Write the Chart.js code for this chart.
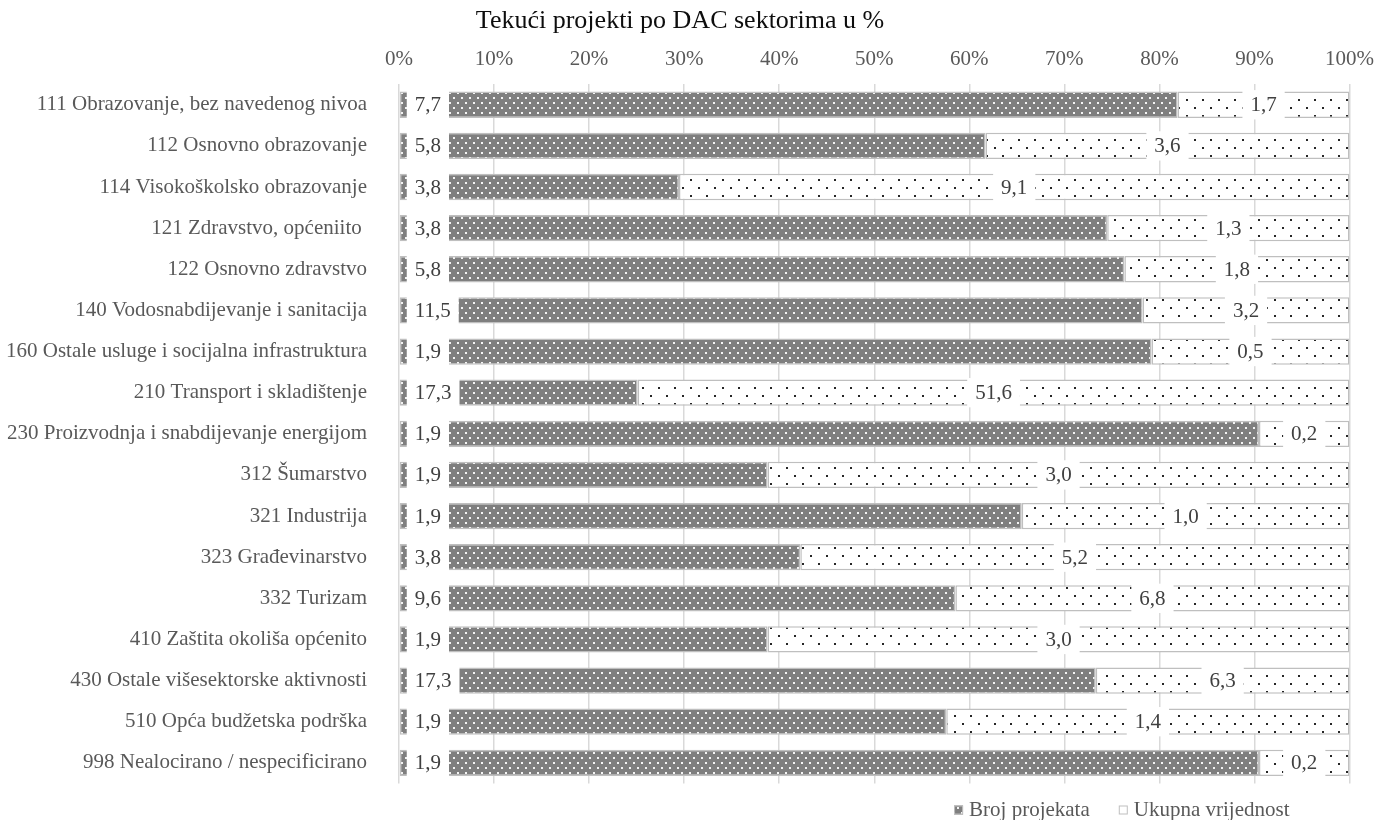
<!DOCTYPE html>
<html lang="bs">
<head>
  <meta charset="UTF-8">
  <title>Tekući projekti po DAC sektorima u %</title>
  <script src="https://cdn.jsdelivr.net/npm/chart.js"></script>
  <style>
    html, body { margin: 0; padding: 0; background: #fff; }
    #wrap { width: 1386px; height: 820px; }
  </style>
</head>
<body>
  <div id="wrap">
    <canvas id="dac-chart" width="1386" height="820"></canvas>
  </div>
  <script>
    // Sectors (DAC codes) and the two shares shown in each bar
    const sectors = [
      '111 Obrazovanje, bez navedenog nivoa',
      '112 Osnovno obrazovanje',
      '114 Visokoškolsko obrazovanje',
      '121 Zdravstvo, općeniito ',
      '122 Osnovno zdravstvo',
      '140 Vodosnabdijevanje i sanitacija',
      '160 Ostale usluge i socijalna infrastruktura',
      '210 Transport i skladištenje',
      '230 Proizvodnja i snabdijevanje energijom',
      '312 Šumarstvo',
      '321 Industrija',
      '323 Građevinarstvo',
      '332 Turizam',
      '410 Zaštita okoliša općenito',
      '430 Ostale višesektorske aktivnosti',
      '510 Opća budžetska podrška',
      '998 Nealocirano / nespecificirano'
    ];
    const brojProjekata = [7.7, 5.8, 3.8, 3.8, 5.8, 11.5, 1.9, 17.3, 1.9, 1.9, 1.9, 3.8, 9.6, 1.9, 17.3, 1.9, 1.9];
    const ukupnaVrijednost = [1.7, 3.6, 9.1, 1.3, 1.8, 3.2, 0.5, 51.6, 0.2, 3.0, 1.0, 5.2, 6.8, 3.0, 6.3, 1.4, 0.2];
    const seriesNames = ['Broj projekata', 'Ukupna vrijednost'];
    const tickLabels = ['0%', '10%', '20%', '30%', '40%', '50%', '60%', '70%', '80%', '90%', '100%'];

    const FONT = '"Liberation Serif", "Times New Roman", serif';

    // 100% stacked: each row is split by its own total
    const rowTotal = brojProjekata.map((v, i) => v + ukupnaVrijednost[i]);
    const brojShare = brojProjekata.map((v, i) => v / rowTotal[i] * 100);
    const ukupnaShare = ukupnaVrijednost.map((v, i) => v / rowTotal[i] * 100);

    // small tiles for the dotted fills
    function makePattern(w, h, bg, dotColor, dots, size) {
      const c = document.createElement('canvas');
      c.width = w; c.height = h;
      const g = c.getContext('2d');
      g.fillStyle = bg;
      g.fillRect(0, 0, w, h);
      g.fillStyle = dotColor;
      dots.forEach(d => g.fillRect(d[0], d[1], size, size));
      return g.createPattern(c, 'repeat');
    }
    const grayDots = makePattern(8, 10, '#7f7f7f', '#f4f4f4', [[1, 2], [5, 7]], 2);
    const whiteDots = makePattern(16, 16, '#ffffff', '#262626', [[2, 3], [10, 11]], 2);
    const fills = [grayDots, whiteDots];
    const rawValues = [brojProjekata, ukupnaVrijednost];

    const fmt = v => v.toFixed(1).replace('.', ',');

    // value labels: first series at the bar base, second one centred, on a white box
    const valueLabels = {
      id: 'valueLabels',
      afterDatasetsDraw(chart) {
        const ctx = chart.ctx;
        ctx.save();
        ctx.font = '21px ' + FONT;
        ctx.textBaseline = 'middle';
        ctx.textAlign = 'left';
        chart.data.datasets.forEach((ds, di) => {
          const meta = chart.getDatasetMeta(di);
          meta.data.forEach((bar, j) => {
            const p = bar.getProps(['x', 'y', 'base', 'height'], true);
            const txt = fmt(rawValues[di][j]);
            const w = ctx.measureText(txt).width;
            const boxW = w + 16;
            let boxX;
            if (di === 0) {
              boxX = p.base + 7;
            } else {
              boxX = (p.base + p.x) / 2 - boxW / 2;
            }
            ctx.fillStyle = '#ffffff';
            ctx.fillRect(boxX, p.y - p.height / 2 - 1.5, boxW, p.height + 3);
            ctx.fillStyle = '#404040';
            ctx.fillText(txt, boxX + 8, p.y + 1);
          });
        });
        ctx.restore();
      }
    };

    // legend drawn by hand, right of centre under the plot
    const bottomLegend = {
      id: 'bottomLegend',
      afterDraw(chart) {
        const ctx = chart.ctx;
        const area = chart.chartArea;
        ctx.save();
        ctx.font = '21px ' + FONT;
        ctx.textBaseline = 'middle';
        ctx.textAlign = 'left';
        const box = 9, gapText = 6, gapItem = 29;
        const widths = seriesNames.map(n => box + gapText + ctx.measureText(n).width);
        const total = widths.reduce((a, b) => a + b, 0) + gapItem * (seriesNames.length - 1);
        let x = area.right - 60 - total;
        const y = 810;
        seriesNames.forEach((n, i) => {
          ctx.fillStyle = fills[i];
          ctx.fillRect(x, y - box / 2, box, box);
          ctx.strokeStyle = '#bfbfbf';
          ctx.lineWidth = 1;
          ctx.strokeRect(x + 0.5, y - box / 2 + 0.5, box - 1, box - 1);
          ctx.fillStyle = '#595959';
          ctx.fillText(n, x + box + gapText, y);
          x += widths[i] + gapItem;
        });
        ctx.restore();
      }
    };

    new Chart(document.getElementById('dac-chart'), {
      type: 'bar',
      data: {
        labels: sectors,
        datasets: [
          {
            label: seriesNames[0],
            data: brojShare,
            backgroundColor: grayDots,
            borderColor: '#bfbfbf',
            borderWidth: 1.5,
            borderSkipped: false
          },
          {
            label: seriesNames[1],
            data: ukupnaShare,
            backgroundColor: whiteDots,
            borderColor: '#bfbfbf',
            borderWidth: 1.5,
            borderSkipped: false
          }
        ]
      },
      options: {
        indexAxis: 'y',
        responsive: false,
        animation: false,
        barPercentage: 0.64,
        categoryPercentage: 1,
        layout: { padding: { left: 0, right: 26, top: 0, bottom: 20 } },
        scales: {
          x: {
            position: 'top',
            stacked: true,
            min: 0,
            max: 100,
            ticks: {
              stepSize: 10,
              padding: 12,
              color: '#595959',
              font: { family: FONT, size: 21 },
              callback: (v, i) => tickLabels[i]
            },
            grid: { color: '#d9d9d9', lineWidth: 1.5, drawTicks: false },
            border: { display: false },
            afterFit: s => { s.height = 40; }
          },
          y: {
            stacked: true,
            ticks: {
              autoSkip: false,
              padding: 24,
              color: '#595959',
              font: { family: FONT, size: 21 }
            },
            grid: { display: false },
            border: { display: false },
            afterFit: s => { s.width = 399; }
          }
        },
        plugins: {
          legend: { display: false },
          tooltip: { enabled: false },
          title: {
            display: true,
            text: 'Tekući projekti po DAC sektorima u %',
            color: '#0d0d0d',
            font: { family: FONT, size: 26, weight: 'normal' },
            padding: { top: 6, bottom: 7 }
          }
        }
      },
      plugins: [valueLabels, bottomLegend]
    });
  </script>
</body>
</html>
